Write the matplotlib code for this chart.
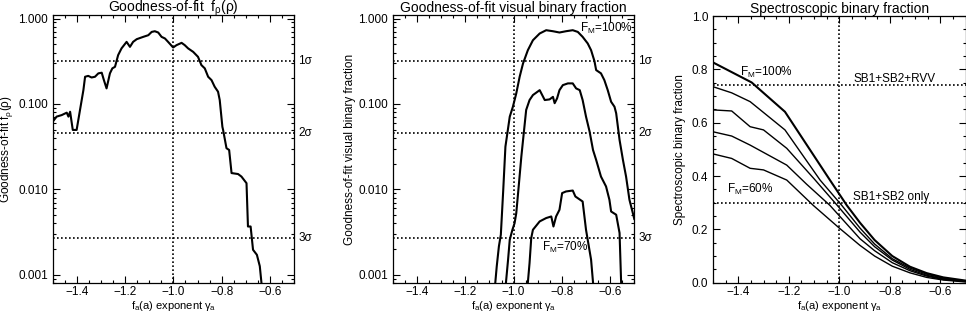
import numpy as np
import matplotlib
matplotlib.use('Agg')
import matplotlib.pyplot as plt
from matplotlib.ticker import MultipleLocator, LogLocator, NullFormatter

plt.rcParams['font.family'] = ['Liberation Sans', 'DejaVu Sans']
plt.rcParams['mathtext.fontset'] = 'custom'
plt.rcParams['mathtext.rm'] = 'Liberation Sans'
plt.rcParams['mathtext.it'] = 'Liberation Sans'
plt.rcParams['mathtext.bf'] = 'Liberation Sans:bold'

# goodness-of-fit of f_rho(rho) vs gamma_a
gof_x = [-1.500, -1.484, -1.463, -1.442, -1.435, -1.428, -1.417, -1.401, -1.387,
         -1.373, -1.366, -1.353, -1.339, -1.325, -1.311, -1.297, -1.288, -1.277,
         -1.263, -1.253, -1.242, -1.229, -1.215, -1.194, -1.180, -1.167, -1.152,
         -1.125, -1.104, -1.090, -1.077, -1.063, -1.049, -1.035, -1.022, -1.001,
         -0.987, -0.966, -0.953, -0.939, -0.918, -0.898, -0.884, -0.870, -0.856,
         -0.842, -0.829, -0.815, -0.808, -0.797, -0.794, -0.780, -0.769, -0.759,
         -0.732, -0.718, -0.697, -0.691, -0.680, -0.670, -0.654, -0.642, -0.635,
         -0.625]
gof_y = [0.062, 0.071, 0.074, 0.079, 0.071, 0.081, 0.0496, 0.0496, 0.085,
         0.145, 0.208, 0.213, 0.204, 0.208, 0.228, 0.232, 0.190, 0.152,
         0.228, 0.261, 0.272, 0.373, 0.447, 0.533, 0.466, 0.533, 0.573,
         0.610, 0.638, 0.697, 0.710, 0.686, 0.610, 0.584, 0.533, 0.458,
         0.488, 0.519, 0.488, 0.447, 0.407, 0.356, 0.285, 0.261, 0.208,
         0.190, 0.159, 0.139, 0.111, 0.054, 0.0496, 0.0303, 0.0289, 0.0155,
         0.0151, 0.0141, 0.0118, 0.00367, 0.00367, 0.00196, 0.00171, 0.00126, 0.00080,
         0.0005]

# goodness-of-fit visual binary fraction, three F_M values
vb100_x = [-1.080, -1.070, -1.061, -1.053, -1.043, -1.034, -1.025, -1.016, -1.003,
           -0.989, -0.975, -0.961, -0.941, -0.920, -0.892, -0.865, -0.837, -0.810,
           -0.783, -0.755, -0.734, -0.714, -0.693, -0.679, -0.665, -0.658, -0.638,
           -0.624, -0.610, -0.596, -0.582, -0.575, -0.561, -0.547, -0.534, -0.520,
           -0.506, -0.500]
vb100_y = [0.0006, 0.00125, 0.00215, 0.00294, 0.00986, 0.0316, 0.0473, 0.071, 0.0927,
           0.133, 0.208, 0.298, 0.426, 0.557, 0.668, 0.730, 0.710, 0.686,
           0.710, 0.730, 0.697, 0.610, 0.511, 0.426, 0.317, 0.249, 0.228,
           0.190, 0.145, 0.106, 0.0927, 0.0777, 0.0379, 0.0221, 0.0141, 0.00754,
           0.00527, 0.0045]
vb85_x = [-1.036, -1.023, -1.016, -1.005, -0.996, -0.989, -0.979, -0.968, -0.958,
          -0.948, -0.934, -0.920, -0.892, -0.871, -0.851, -0.837, -0.830, -0.820,
          -0.810, -0.796, -0.775, -0.755, -0.741, -0.726, -0.714, -0.700, -0.685,
          -0.671, -0.658, -0.638, -0.617, -0.603, -0.596, -0.575, -0.561, -0.553]
vb85_y = [0.0006, 0.0015, 0.00257, 0.00336, 0.00402, 0.00527, 0.0108, 0.0242, 0.0454,
          0.085, 0.111, 0.127, 0.145, 0.111, 0.113, 0.121, 0.102, 0.116,
          0.145, 0.166, 0.174, 0.174, 0.152, 0.145, 0.111, 0.071, 0.0473,
          0.0289, 0.0221, 0.0141, 0.0108, 0.00754, 0.0055, 0.00504, 0.00308, 0.0006]
vb70_x = [-0.945, -0.934, -0.927, -0.920, -0.892, -0.865, -0.844, -0.835, -0.824,
          -0.810, -0.799, -0.783, -0.755, -0.744, -0.714, -0.700, -0.679, -0.667]
vb70_y = [0.0006, 0.00137, 0.00269, 0.00336, 0.00421, 0.00461, 0.00481, 0.00367, 0.00481,
          0.00576, 0.00903, 0.00944, 0.00968, 0.00824, 0.0072, 0.00336, 0.0015, 0.0006]

# spectroscopic binary fraction, F_M = 100% ... 60%
sb_x = {
    100: [-1.5, -1.347, -1.215, -1.037, -0.97, -0.918, -0.86, -0.79, -0.72, -0.654, -0.588, -0.5],
    90: [-1.5, -1.426, -1.353, -1.215, -1.076, -0.99, -0.918, -0.86, -0.79, -0.72, -0.654, -0.588, -0.5],
    80: [-1.5, -1.426, -1.353, -1.30, -1.208, -1.10, -1.008, -0.918, -0.86, -0.79, -0.72, -0.654, -0.588, -0.5],
    70: [-1.5, -1.426, -1.353, -1.208, -1.13, -1.037, -0.918, -0.86, -0.79, -0.72, -0.654, -0.588, -0.5],
    60: [-1.5, -1.426, -1.353, -1.30, -1.208, -1.103, -1.0, -0.918, -0.86, -0.79, -0.72, -0.654, -0.588, -0.5],
}
sb_y = {
    100: [0.826, 0.751, 0.641, 0.385, 0.29, 0.225, 0.16, 0.10, 0.06, 0.036, 0.02, 0.008],
    90: [0.735, 0.712, 0.679, 0.573, 0.385, 0.29, 0.205, 0.145, 0.09, 0.055, 0.032, 0.017, 0.006],
    80: [0.648, 0.644, 0.585, 0.573, 0.504, 0.39, 0.29, 0.19, 0.135, 0.085, 0.05, 0.028, 0.014, 0.005],
    70: [0.566, 0.55, 0.516, 0.441, 0.37, 0.29, 0.165, 0.12, 0.075, 0.045, 0.025, 0.012, 0.004],
    60: [0.483, 0.466, 0.429, 0.423, 0.385, 0.29, 0.205, 0.14, 0.10, 0.062, 0.037, 0.02, 0.01, 0.003],
}

sigma_levels = [0.3173, 0.0455, 0.0027]
sigma_labels = ['1\u03c3', '2\u03c3', '3\u03c3']
sb_obs = [0.74, 0.30]
sb_obs_labels = ['SB1+SB2+RVV', 'SB1+SB2 only']

log_ticks = [0.001, 0.01, 0.1, 1.0]
log_ticklabels = ['0.001', '0.010', '0.100', '1.000']
xlabel = r'f$_a$(a) exponent $\gamma_a$'

dot = (0, (1, 1.4))

fig = plt.figure(figsize=(9.66, 3.15), dpi=100)
ax1 = fig.add_axes([0.0546, 0.1016, 0.2498, 0.8508])
ax2 = fig.add_axes([0.4068, 0.1016, 0.2498, 0.8508])
ax3 = fig.add_axes([0.7381, 0.1025, 0.2614, 0.8466])


def style(ax, title):
    ax.set_xlim(-1.5, -0.5)
    ax.xaxis.set_major_locator(MultipleLocator(0.2))
    ax.xaxis.set_minor_locator(MultipleLocator(0.05))
    ax.tick_params(which='both', direction='in', top=True, right=True, labelsize=8.5)
    ax.tick_params(which='major', length=5, width=0.8)
    ax.tick_params(which='minor', length=2.5, width=0.8)
    ax.tick_params(axis='x', pad=2.5)
    ax.set_xlabel(xlabel, fontsize=8, labelpad=0.5)
    for s in ax.spines.values():
        s.set_linewidth(0.9)
    # title with its baseline just above the frame
    ax.text(0.5, 1.013, title, transform=ax.transAxes, ha='center',
            va='baseline', fontsize=10)


for ax, title, ylab in [(ax1, r'Goodness-of-fit  f$_\rho$($\rho$)', r'Goodness-of-fit f$_\rho$($\rho$)'),
                        (ax2, 'Goodness-of-fit visual binary fraction', 'Goodness-of-fit visual binary fraction')]:
    style(ax, title)
    ax.set_yscale('log')
    ax.set_ylim(8e-4, 1.1)
    ax.set_yticks(log_ticks)
    ax.set_yticklabels(log_ticklabels)
    ax.yaxis.set_minor_locator(LogLocator(base=10, subs=np.arange(2, 10)))
    ax.yaxis.set_minor_formatter(NullFormatter())
    ax.set_ylabel(ylab, fontsize=8.5, labelpad=2)
    ax.axvline(-1.0, color='black', lw=1.2, ls=dot)
    for lev, lab in zip(sigma_levels, sigma_labels):
        ax.axhline(lev, color='black', lw=1.2, ls=dot)
        ax.text(1.017, lev, lab, transform=ax.get_yaxis_transform(),
                ha='left', va='center', fontsize=8.5, clip_on=False)

ax1.plot(gof_x, gof_y, color='black', lw=1.5)

for xs, ys in [(vb100_x, vb100_y), (vb85_x, vb85_y), (vb70_x, vb70_y)]:
    ax2.plot(xs, ys, color='black', lw=1.5)
ax2.text(-0.723, 0.77, r'F$_M$=100%', fontsize=8.5, ha='left', va='center')
ax2.text(-0.881, 0.00206, r'F$_M$=70%', fontsize=8.5, ha='left', va='center')

style(ax3, 'Spectroscopic binary fraction')
ax3.set_ylim(0, 1.0)
ax3.yaxis.set_major_locator(MultipleLocator(0.2))
ax3.yaxis.set_minor_locator(MultipleLocator(0.05))
ax3.yaxis.set_major_formatter(plt.FormatStrFormatter('%.1f'))
ax3.set_ylabel('Spectroscopic binary fraction', fontsize=8.5, labelpad=4)
ax3.axvline(-1.0, color='black', lw=1.2, ls=dot)
for lev, lab in zip(sb_obs, sb_obs_labels):
    ax3.axhline(lev, color='black', lw=1.2, ls=dot)
    ax3.text(-0.945, lev + 0.012, lab, fontsize=8.5, ha='left', va='baseline')
for fm in [100, 90, 80, 70, 60]:
    ax3.plot(sb_x[fm], sb_y[fm], color='black', lw=1.5 if fm == 100 else 1.0)
ax3.text(-1.393, 0.79, r'F$_M$=100%', fontsize=8.5, ha='left', va='center')
ax3.text(-1.445, 0.348, r'F$_M$=60%', fontsize=8.5, ha='left', va='center')

fig.savefig('out.png', dpi=100)
